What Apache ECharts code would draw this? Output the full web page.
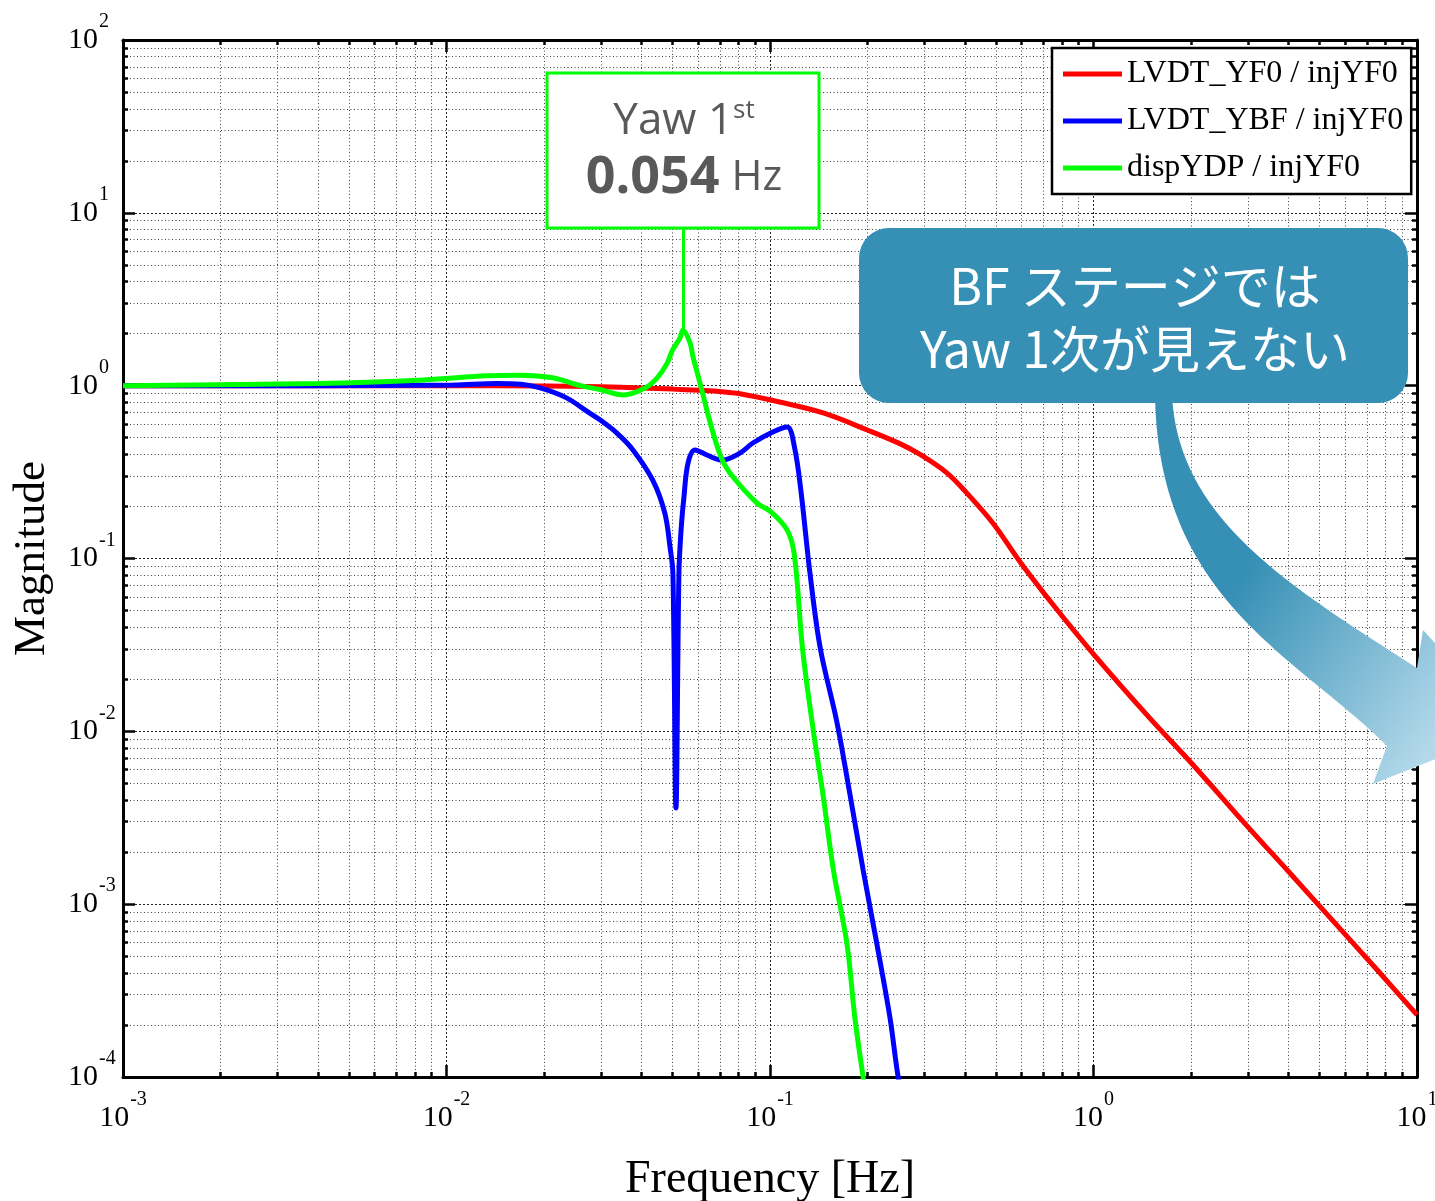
<!DOCTYPE html>
<html lang="ja">
<head>
<meta charset="UTF-8">
<title>Yaw transfer function</title>
<script src="https://cdn.jsdelivr.net/npm/echarts@6/dist/echarts.min.js"></script>
<style>
  html, body { margin: 0; padding: 0; background: #fff; }
  #main { width: 1435px; height: 1201px; }
</style>
</head>
<body>
<div id="main"></div>
<script>
// values: frequency [Hz] and magnitude
var seriesNames = ['LVDT_YF0 / injYF0', 'LVDT_YBF / injYF0', 'dispYDP / injYF0'];

var redFreq = [0.001, 0.003, 0.01, 0.02, 0.03, 0.04, 0.05, 0.06, 0.07, 0.08, 0.107, 0.146, 0.2, 0.25, 0.291, 0.352, 0.406, 0.489, 0.593, 0.75, 1.0, 1.5, 2.0, 3.0, 4.0, 5.5, 7.5, 10];
var redMag  = [1.0, 1.0, 1.0, 0.995, 0.985, 0.97, 0.955, 0.94, 0.925, 0.9, 0.804, 0.695, 0.554, 0.465, 0.4, 0.313, 0.239, 0.16, 0.0955, 0.054, 0.028, 0.0118, 0.0066, 0.0028, 0.00155, 0.0008, 0.00042, 0.000229];

var blueFreq = [0.001, 0.004, 0.0105, 0.0143, 0.017, 0.0195, 0.0235, 0.0272, 0.0298, 0.0337, 0.0377, 0.0434, 0.0473, 0.0491, 0.0501, 0.0512, 0.0523, 0.0531, 0.0542, 0.0558, 0.0586, 0.0638, 0.0712, 0.0807, 0.0885, 0.102, 0.113, 0.119, 0.1245, 0.133, 0.143, 0.161, 0.177, 0.194, 0.214, 0.235, 0.249, 0.26];
var blueMag  = [1.0, 1.0, 1.01, 1.03, 1.02, 0.97, 0.85, 0.71, 0.635, 0.53, 0.425, 0.284, 0.183, 0.116, 0.0824, 0.0036, 0.0824, 0.146, 0.227, 0.357, 0.425, 0.397, 0.371, 0.407, 0.466, 0.54, 0.577, 0.442, 0.25, 0.0813, 0.0303, 0.0113, 0.00423, 0.00158, 0.000588, 0.000219, 0.0001, 0.00007];

var greenFreq = [0.001, 0.004, 0.0085, 0.0133, 0.0169, 0.0213, 0.0259, 0.0298, 0.0352, 0.0411, 0.0448, 0.0481, 0.05, 0.0527, 0.0538, 0.0566, 0.0578, 0.0608, 0.0638, 0.0667, 0.0712, 0.0769, 0.0912, 0.1, 0.113, 0.119, 0.126, 0.136, 0.146, 0.157, 0.173, 0.183, 0.194, 0.2];
var greenMag  = [1.0, 1.03, 1.08, 1.14, 1.15, 1.11, 1.0, 0.95, 0.883, 0.97, 1.11, 1.35, 1.61, 1.89, 2.1, 1.77, 1.47, 1.03, 0.723, 0.532, 0.371, 0.296, 0.209, 0.188, 0.146, 0.104, 0.0303, 0.0102, 0.00423, 0.00158, 0.000588, 0.000219, 0.0001, 0.00007];

// peak marker: from the resonance up to the label box
var peakFreq = 0.0538;
var peakLine = [2.1, 8.2];

var peakTitle = 'Yaw 1';
var peakValue = '0.054';
var calloutText = 'BF ステージでは\nYaw 1次が見えない';

var serif = '"Liberation Serif", "Times New Roman", serif';

function pairs(f, m) {
    return f.map(function (v, i) { return [v, m[i]]; });
}
function powLabel(v) {
    return '{b|10}{e|' + Math.round(Math.log10(v)) + '}';
}
var labelRich = {
    b: { fontFamily: serif, fontSize: 30, color: '#000' },
    e: { fontFamily: serif, fontSize: 20, color: '#000', padding: [0, 0, 36, 1] }
};

var axisLineStyle = { color: '#000', width: 3 };
var tickStyle = { color: '#000', width: 2.5 };
var majorGrid = { color: '#222', width: 1, type: [2, 2] };
var minorGrid = { color: '#444', width: 1, type: [1, 2.5] };

function logAxis(min, max, pos, main) {
    return {
        type: 'log', logBase: 10, min: min, max: max, interval: 1,
        position: pos,
        axisLine: { show: true, onZero: false, lineStyle: axisLineStyle },
        axisTick: { show: true, inside: true, length: 12, lineStyle: tickStyle },
        minorTick: { show: true, splitNumber: 9, length: 5, lineStyle: tickStyle },
        splitLine: { show: main, lineStyle: majorGrid },
        minorSplitLine: { show: main, lineStyle: minorGrid },
        axisLabel: { show: false }
    };
}

var xMain = logAxis(0.001, 10, 'bottom', true);
xMain.axisLabel = { show: true, formatter: powLabel, rich: labelRich, margin: 13 };
xMain.name = 'Frequency [Hz]';
xMain.nameLocation = 'middle';
xMain.nameGap = 80;
xMain.nameTextStyle = { fontFamily: serif, fontSize: 46, color: '#000' };

var yMain = logAxis(0.0001, 100, 'left', true);
yMain.axisLabel = { show: true, formatter: powLabel, rich: labelRich, align: 'left', margin: 55 };
yMain.name = 'Magnitude';
yMain.nameLocation = 'middle';
yMain.nameGap = 68;
yMain.nameTextStyle = { fontFamily: serif, fontSize: 45, color: '#000' };

function lineSeries(name, color, f, m) {
    return {
        name: name, type: 'line', data: pairs(f, m),
        showSymbol: false, smooth: 0.35, clip: true,
        lineStyle: { color: color, width: 5 },
        itemStyle: { color: color },
        animation: false
    };
}

var green = lineSeries(seriesNames[2], '#00ff00', greenFreq, greenMag);
green.markLine = {
    silent: true, symbol: 'none', animation: false,
    label: { show: false },
    lineStyle: { color: '#00ff00', width: 3, type: 'solid' },
    data: [[{ coord: [peakFreq, peakLine[0]] }, { coord: [peakFreq, peakLine[1]] }]]
};

// curved callout arrow outline (decoration, pixel space)
function cubic(p0, p1, p2, p3, n) {
    var out = [];
    for (var i = 0; i <= n; i++) {
        var t = i / n, u = 1 - t;
        out.push([
            u * u * u * p0[0] + 3 * u * u * t * p1[0] + 3 * u * t * t * p2[0] + t * t * t * p3[0],
            u * u * u * p0[1] + 3 * u * u * t * p1[1] + 3 * u * t * t * p2[1] + t * t * t * p3[1]
        ]);
    }
    return out;
}
var arrowPts = cubic([1155, 395], [1158, 600], [1297, 656], [1387, 746], 40)
    .concat([[1373, 784], [1513, 728], [1423, 630]])
    .concat(cubic([1417, 668], [1291, 587], [1178, 520], [1172, 395], 40));

var option = {
    animation: false,
    backgroundColor: '#fff',
    grid: { left: 123, right: 18, top: 40, bottom: 124, containLabel: false, outerBoundsMode: 'none' },
    xAxis: [xMain, logAxis(0.001, 10, 'top', false)],
    yAxis: [yMain, logAxis(0.0001, 100, 'right', false)],
    legend: {
        orient: 'vertical', left: 1052, top: 48,
        padding: [10, 8, 10, 11], itemGap: 15,
        itemWidth: 59, itemHeight: 5, icon: 'rect',
        borderColor: '#000', borderWidth: 2.5, borderRadius: 0,
        backgroundColor: '#fff',
        textStyle: { fontFamily: serif, fontSize: 32, color: '#000', lineHeight: 30 },
        data: seriesNames
    },
    series: [
        lineSeries(seriesNames[0], '#ff0000', redFreq, redMag),
        lineSeries(seriesNames[1], '#0000ff', blueFreq, blueMag),
        green
    ],
    graphic: [
        {
            type: 'polygon', z: 50,
            shape: { points: arrowPts },
            style: {
                fill: new echarts.graphic.LinearGradient(1235, 590, 1440, 730,
                    [{ offset: 0, color: '#3690b5' }, { offset: 1, color: '#b2d8ea' }], true)
            }
        },
        {
            type: 'rect', z: 51,
            shape: { x: 859, y: 228, width: 549, height: 175, r: 30 },
            style: { fill: '#3690b5' }
        },
        {
            type: 'text', z: 52, x: 1135, y: 317,
            style: {
                text: calloutText, fill: '#fff',
                fontFamily: '"Noto Sans CJK JP", "Open Sans", sans-serif', fontSize: 50,
                lineHeight: 63, align: 'center', verticalAlign: 'middle'
            }
        },
        {
            type: 'rect', z: 50,
            shape: { x: 547, y: 73, width: 272, height: 155 },
            style: { fill: '#fff', stroke: '#00ff00', lineWidth: 3 }
        },
        {
            type: 'text', z: 52, x: 684, y: 121,
            style: {
                text: '{a|' + peakTitle + '}{s|st}',
                align: 'center', verticalAlign: 'middle',
                rich: {
                    a: { fontFamily: '"Open Sans", sans-serif', fontSize: 44, fill: '#595959' },
                    s: { fontFamily: '"Open Sans", sans-serif', fontSize: 26, fill: '#595959', padding: [0, 0, 20, 0] }
                }
            }
        },
        {
            type: 'text', z: 52, x: 684, y: 178,
            style: {
                text: '{n|' + peakValue + '}{h|Hz}',
                align: 'center', verticalAlign: 'middle',
                rich: {
                    n: { fontFamily: '"Open Sans", sans-serif', fontSize: 52, fontWeight: 'bold', fill: '#595959' },
                    h: { fontFamily: '"Open Sans", sans-serif', fontSize: 42, fill: '#595959', padding: [0, 0, 0, 12] }
                }
            }
        }
    ]
};

var chart = echarts.init(document.getElementById('main'));
chart.setOption(option);
</script>
</body>
</html>
